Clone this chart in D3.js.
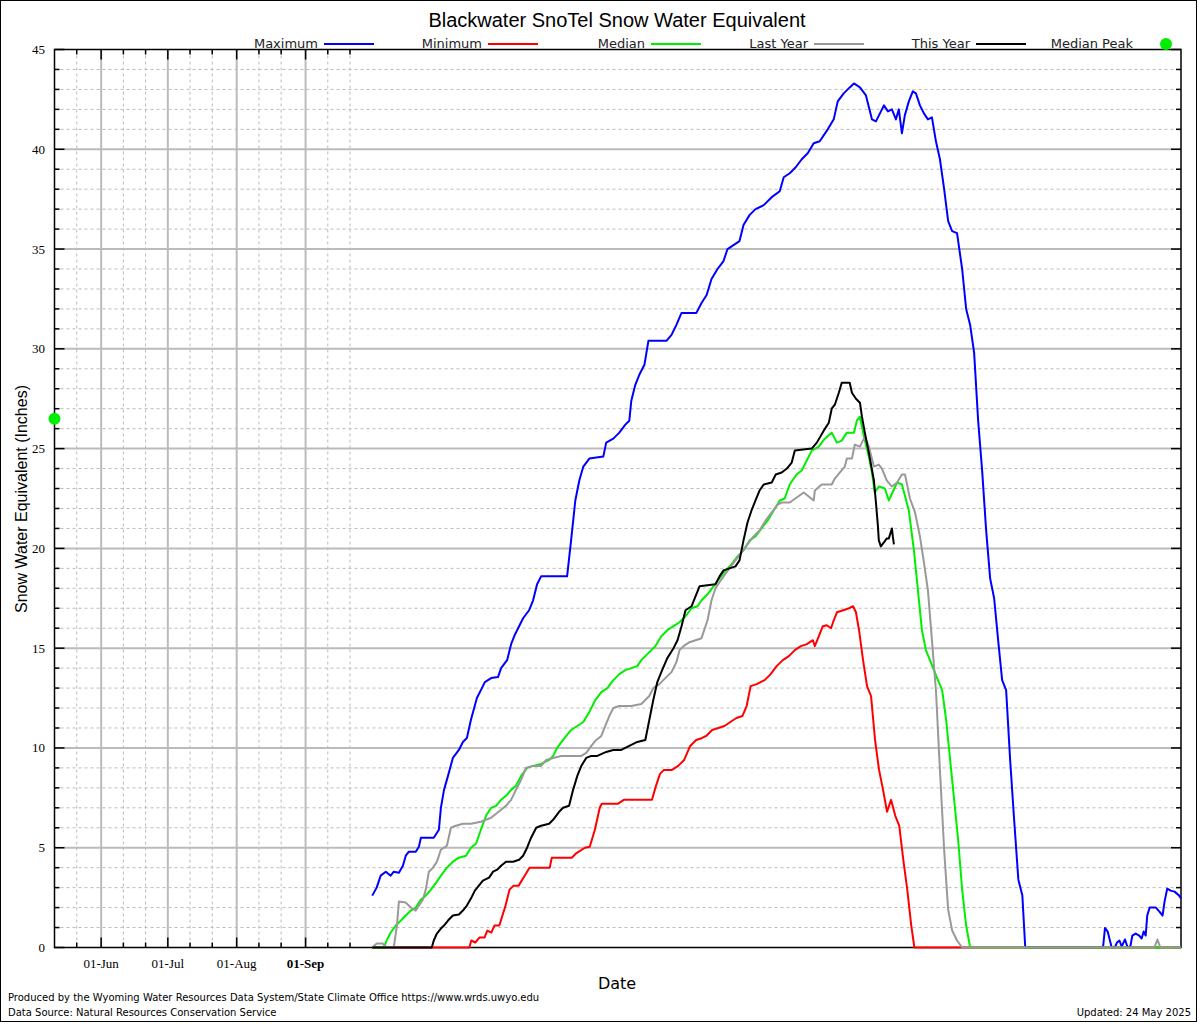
<!DOCTYPE html>
<html><head><meta charset="utf-8">
<script src="https://cdn.jsdelivr.net/npm/d3@7"></script>
<style>body{margin:0;background:#fff}svg{display:block}</style>
</head><body>
<svg id="c" width="1200" height="1024"></svg>
<script>
// ---------------- DATA ----------------
// [day of water year (0 = 01-Oct-2024), SWE inches]
const maximumSeries = [[0,2.6],[2,3.0],[3.8,3.6],[6.1,3.8],[8.3,3.6],[9.7,3.8],[12,3.75],[13.8,4.1],[15.1,4.6],[16.5,4.8],[19.6,4.8],[21,5.05],[21.9,5.5],[27.7,5.5],[30,5.9],[30.9,7.0],[32.3,7.9],[34.1,8.6],[36.3,9.5],[39,9.9],[40.8,10.3],[42.6,10.5],[44.4,11.4],[47.1,12.5],[48.9,12.9],[50.7,13.3],[53.5,13.5],[56.6,13.55],[58,14.0],[60.7,14.4],[62.5,15.2],[64.3,15.7],[66.1,16.1],[67.9,16.5],[70.6,16.9],[72.4,17.4],[74.2,18.2],[76,18.6],[87.7,18.6],[89.5,20.4],[91.4,22.4],[93.2,23.4],[95,24.1],[97.7,24.5],[104,24.6],[105.3,25.3],[108.5,25.5],[111.2,25.8],[113.9,26.2],[115.7,26.4],[116.6,27.4],[118.4,28.2],[120.2,28.7],[122.5,29.2],[124.3,30.4],[132.4,30.4],[134.7,30.7],[136.9,31.2],[139.2,31.8],[145.9,31.8],[148.2,32.3],[150.5,32.7],[152.7,33.5],[155.4,34.0],[158.1,34.4],[159.9,35.0],[162.6,35.2],[165.3,35.4],[167.1,36.2],[169.8,36.7],[172.5,37.0],[176.2,37.2],[179.8,37.6],[183.4,37.9],[185.2,38.6],[187.9,38.8],[190.6,39.1],[193.3,39.5],[196,39.8],[198.7,40.3],[201.4,40.4],[205,41.0],[207.7,41.5],[209.5,42.4],[212.2,42.8],[214.9,43.1],[216.8,43.3],[219.5,43.1],[222.2,42.7],[224.9,41.5],[226.7,41.4],[228.5,41.8],[230.3,42.2],[232.1,41.9],[233.9,42.0],[235.7,41.5],[237,42.0],[238.4,40.8],[239.7,41.7],[241.5,42.4],[243.3,42.9],[244.7,42.8],[246.5,42.2],[248.3,41.8],[250.1,41.5],[251.9,41.6],[253.7,40.4],[255.5,39.5],[257.4,38.0],[259.2,36.4],[261,35.9],[263.2,35.8],[265.5,34.0],[267.3,32.0],[269.1,31.2],[270.9,29.8],[272.7,26.4],[274.5,23.9],[276.3,20.9],[278.1,18.5],[279.9,17.5],[281.7,15.4],[283.5,13.4],[285.3,12.9],[287.1,9.4],[288.9,6.4],[290.8,3.4],[292.6,2.6],[293.9,0],[328.9,0],[329.8,0.98],[331,0.8],[332.8,0],[334.2,0],[335.2,0.25],[336.3,0.35],[337.3,0.05],[338.8,0.4],[340,0],[341.2,0.05],[342.1,0.6],[343.6,0.7],[345.2,0.6],[346.3,0.45],[347.2,0.8],[348.1,0.6],[348.8,1.6],[349.9,2.0],[352.7,2.0],[354.3,1.8],[355.7,1.6],[356.6,2.3],[357.8,2.95],[359.3,2.85],[361.1,2.8],[363.2,2.6],[364,2.45]];

const minimumSeries = [[0,0],[27.3,0],[43.7,0],[44.6,0.35],[46.4,0.25],[48.2,0.5],[50.5,0.5],[51.8,0.85],[53.6,0.75],[55,1.1],[57.2,1.1],[58.6,1.6],[60,2.1],[61.8,2.9],[63.6,3.1],[65.9,3.1],[68.6,3.6],[70.8,4.0],[79.9,4.0],[80.8,4.5],[89.8,4.5],[91.6,4.7],[95.7,5.0],[97.9,5.05],[100.2,5.9],[102.4,7.0],[103.3,7.2],[110.5,7.2],[113.2,7.4],[125.9,7.4],[127.7,8.1],[129.5,8.7],[131.3,8.9],[134.9,8.9],[137.7,9.1],[140.4,9.4],[143.1,10.1],[145.8,10.4],[148.5,10.5],[150.3,10.6],[153,10.9],[155.8,11.0],[158.5,11.1],[161.2,11.3],[163.9,11.5],[166.6,11.6],[168.5,12.1],[170.3,13.1],[173,13.2],[176.6,13.4],[179.3,13.7],[182,14.1],[184.8,14.4],[187.5,14.6],[190.2,14.9],[192.9,15.1],[195.6,15.2],[198.3,15.4],[199.2,15.1],[201,15.6],[202.8,16.1],[204.6,16.15],[206.5,16.0],[207.4,16.3],[209.2,16.8],[211.9,16.9],[214.6,17.0],[216.4,17.1],[217.7,16.8],[219.1,15.9],[220.9,14.4],[222.7,13.1],[224.5,12.6],[226.3,10.4],[228.1,8.9],[229.9,7.9],[231.7,6.8],[233.5,7.4],[235.4,6.6],[237.2,6.1],[239,4.4],[240.8,2.9],[242.6,1.1],[244,0],[364,0]];

const medianSeries = [[0,0],[5.2,0],[6.5,0.35],[8.3,0.75],[10.6,1.1],[12.9,1.35],[15.1,1.6],[17.4,1.85],[19.6,2.0],[21.9,2.4],[24.1,2.6],[26.4,2.9],[29.1,3.3],[30.9,3.6],[33.6,4.0],[36.3,4.3],[39,4.5],[42.2,4.6],[44.4,5.0],[46.7,5.2],[48.9,5.9],[51.2,6.6],[53.5,7.0],[55.7,7.1],[58,7.4],[60.2,7.6],[62.5,7.9],[64.7,8.1],[67,8.6],[69.7,9.0],[72.4,9.1],[76,9.2],[79.6,9.4],[81.4,9.6],[83.2,10.0],[85.9,10.4],[89.5,10.9],[92.3,11.1],[95,11.3],[97.7,11.8],[100.4,12.4],[103.1,12.8],[105.8,13.0],[108.5,13.4],[111.2,13.7],[113.9,13.9],[116.6,14.0],[119.3,14.1],[121.1,14.4],[124.7,14.8],[127.4,15.1],[130.1,15.6],[132.8,15.9],[135.6,16.1],[138.3,16.3],[141,16.6],[143.7,17.0],[146.4,17.1],[148.2,17.4],[150.9,17.7],[153.6,18.1],[156.3,18.5],[159,18.9],[161.7,19.2],[164.4,19.6],[167.1,19.9],[169.8,20.4],[172.5,20.6],[175.2,21.0],[178,21.4],[180.7,21.9],[183.4,22.4],[185.6,22.5],[187.9,23.2],[191,23.7],[193.3,23.9],[197.8,24.9],[201,25.1],[203.7,25.5],[206.8,25.8],[209.1,25.3],[211.3,25.4],[213.6,25.8],[216.8,25.8],[218.1,26.4],[219.5,26.6],[221.3,25.6],[223.5,24.6],[224.9,23.8],[226.2,22.8],[228,23.1],[230.7,23.0],[232.5,22.4],[236.2,23.3],[238.4,23.2],[241.5,21.9],[243.8,19.9],[245.6,17.9],[247.4,15.9],[249.2,14.9],[251,14.4],[252.8,13.9],[254.6,13.4],[256.5,12.9],[258.3,11.4],[260.1,9.4],[261.9,7.4],[263.7,5.4],[265.5,2.9],[267.3,1.1],[269.1,0],[364,0]];

const lastYearSeries = [[0,0],[2,0.2],[4.7,0.2],[6.5,0],[9.7,0],[11.1,1.1],[12,2.3],[15.1,2.25],[17.4,2.0],[19.6,1.85],[21,2.1],[22.8,2.4],[24.1,2.9],[25.5,3.8],[27.3,4.0],[29.1,4.3],[30.9,4.9],[33.6,5.1],[35.4,6.0],[37.7,6.1],[40.8,6.2],[44.4,6.2],[48.9,6.3],[53.5,6.5],[58,6.9],[60.2,7.1],[62.5,7.4],[64.7,7.9],[67,8.4],[69.2,9.0],[72.4,9.1],[76,9.1],[78.3,9.4],[81.4,9.5],[85,9.6],[94.1,9.6],[96.3,9.75],[98.6,10.1],[100.8,10.4],[103.1,10.6],[104.9,11.1],[106.7,11.6],[108.5,12.0],[111.2,12.1],[116.6,12.1],[121.1,12.2],[122.9,12.4],[124.7,12.6],[126.5,13.0],[129.2,13.2],[131.9,13.5],[134.7,13.8],[136.9,14.3],[138.3,14.9],[140.1,15.1],[142.8,15.3],[145.5,15.4],[148.2,15.5],[150.9,16.4],[152.7,17.4],[154.5,18.0],[156.3,18.3],[158.1,18.6],[160.8,19.0],[163.5,19.4],[166.2,19.8],[168.9,20.2],[171.6,20.6],[174.3,20.9],[177.1,21.4],[179.8,21.8],[182.5,22.2],[184.3,22.3],[187.9,22.3],[194.2,22.8],[198.7,22.4],[199.2,22.9],[202.3,23.2],[206.8,23.2],[208.2,23.5],[210.4,23.8],[212.7,24.1],[213.6,24.5],[215.9,24.5],[217.2,25.2],[219.5,25.1],[221.7,25.6],[223.5,25.1],[225.8,24.1],[228,24.2],[229.4,24.0],[231.6,23.4],[233.9,23.1],[236.2,23.3],[238.4,23.7],[239.8,23.7],[242,22.5],[244.3,21.8],[246.5,20.6],[248.3,19.3],[250.1,17.9],[251.9,15.4],[253.7,12.9],[255.5,8.9],[257.4,4.9],[259.2,1.9],[261,0.85],[263.2,0.35],[265.5,0],[352,0],[353.4,0.4],[354.7,0],[364,0]];

const thisYearSeries = [[0,0],[26.8,0],[27.7,0.35],[29.1,0.7],[30.9,0.95],[32.3,1.1],[34.1,1.35],[36.3,1.6],[39,1.65],[40.8,1.85],[42.6,2.1],[44.4,2.45],[46.2,2.85],[48,3.1],[49.8,3.35],[52.6,3.5],[54.4,3.8],[56.2,3.9],[58,4.1],[60.2,4.3],[63.4,4.3],[66.1,4.4],[67.9,4.6],[69.7,5.0],[71.5,5.5],[73.8,6.0],[76,6.1],[79.6,6.2],[81.4,6.4],[84.1,6.8],[85.9,7.0],[88.6,7.1],[90.4,7.9],[92.3,8.6],[94.1,9.1],[96.3,9.5],[98.6,9.6],[101.3,9.6],[105.3,9.8],[108.5,9.9],[112.1,9.9],[115.7,10.1],[119.3,10.3],[122.9,10.4],[124.7,11.4],[126.5,12.4],[128.3,13.3],[130.1,13.8],[132.8,14.5],[135.6,15.0],[137.4,15.4],[139.2,16.1],[141,16.9],[143.7,17.1],[145.5,17.6],[147.3,18.1],[154.5,18.2],[156.3,18.6],[158.1,18.9],[160.8,19.0],[163.5,19.1],[165.3,19.4],[167.1,20.4],[168.9,21.3],[170.7,21.9],[172.5,22.4],[174.3,22.9],[176.2,23.2],[179.8,23.3],[181.6,23.7],[184.3,23.8],[186.6,24.0],[188.8,24.3],[190.2,24.9],[197.8,25.0],[200.1,25.3],[203.2,25.9],[205.5,26.3],[206.8,27.0],[208.2,27.2],[210,27.8],[211.3,28.3],[214.9,28.3],[215.9,27.8],[217.7,27.5],[219.5,27.3],[220.4,26.6],[221.7,25.8],[223.5,24.8],[225.8,23.4],[226.7,22.3],[227.6,21.1],[228,20.4],[228.9,20.1],[230.3,20.3],[231.6,20.5],[232.5,20.5],[233.9,21.0],[234.3,20.6],[234.8,20.2]];

const medianPeak = 26.5;

const seriesNames = ["Maximum","Minimum","Median","Last Year","This Year"];
const yTickLabels = ["0","5","10","15","20","25","30","35","40","45"];
const xMonthTicks = ["2024-06-01","2024-07-01","2024-08-01","2024-09-01"];
const xMonthLabels = ["01-Jun","01-Jul","01-Aug","01-Sep"];
const xMinorTicks = ["2024-05-21","2024-06-11","2024-06-21","2024-07-11","2024-07-21","2024-08-11","2024-08-21","2024-09-11","2024-09-21"];
const titleText = "Blackwater SnoTel Snow Water Equivalent";
const footer1 = "Produced by the Wyoming Water Resources Data System/State Climate Office https://www.wrds.uwyo.edu";
const footer2 = "Data Source: Natural Resources Conservation Service";
const updatedText = "Updated: 24 May 2025";

// ---------------- CHART ----------------
const colors = ["#0000ff","#ff0000","#00ee00","#999999","#000000"];
const seriesData = [maximumSeries, minimumSeries, medianSeries, lastYearSeries, thisYearSeries];
const wyStart = Date.UTC(2024, 9, 1);
const toDate = d => new Date(wyStart + d * 864e5);
const parse = s => new Date(s + "T00:00:00Z");

const svg = d3.select("#c");
const L = 54.5, R = 1181, T = 49.5, B = 947.5;
const x = d3.scaleUtc().domain([parse("2024-05-11"), parse("2025-09-30")]).range([L, R]);
const y = d3.scaleLinear().domain([0, 45]).range([B, T]);

svg.append("rect").attr("x",0.5).attr("y",0.5).attr("width",1196).attr("height",1021)
  .attr("fill","#fff").attr("stroke","#000").attr("stroke-width",1);

const grid = svg.append("g");
const yAll = d3.range(0, 46, 1);
const yMajor = yTickLabels.map(Number);
grid.selectAll("line.hmin").data(yAll.filter(v => v % 5 !== 0)).join("line")
  .attr("x1", L).attr("x2", R).attr("y1", d => y(d)).attr("y2", d => y(d))
  .attr("stroke", "#bbb").attr("stroke-width", 1).attr("stroke-dasharray", "3,3");
grid.selectAll("line.hmaj").data(yMajor.filter(v => v > 0 && v < 45)).join("line")
  .attr("x1", L).attr("x2", R).attr("y1", d => y(d)).attr("y2", d => y(d))
  .attr("stroke", "#bbb").attr("stroke-width", 2);
grid.selectAll("line.vmin").data(xMinorTicks.map(parse)).join("line")
  .attr("x1", d => x(d)).attr("x2", d => x(d)).attr("y1", T).attr("y2", B)
  .attr("stroke", "#bbb").attr("stroke-width", 1).attr("stroke-dasharray", "3,3");
grid.selectAll("line.vmaj").data(xMonthTicks.map(parse)).join("line")
  .attr("x1", d => x(d)).attr("x2", d => x(d)).attr("y1", T).attr("y2", B)
  .attr("stroke", "#bbb").attr("stroke-width", 2);

svg.append("rect").attr("x", L).attr("y", T).attr("width", R - L).attr("height", B - T)
  .attr("fill", "none").attr("stroke", "#000").attr("stroke-width", 1.5);

const tk = svg.append("g").attr("stroke", "#000").attr("stroke-width", 1.5);
yAll.forEach(v => {
  const len = v % 5 === 0 ? 10 : 5;
  tk.append("line").attr("x1", L).attr("x2", L + len).attr("y1", y(v)).attr("y2", y(v));
  tk.append("line").attr("x1", R - len).attr("x2", R).attr("y1", y(v)).attr("y2", y(v));
});
xMinorTicks.map(parse).forEach(d => {
  tk.append("line").attr("x1", x(d)).attr("x2", x(d)).attr("y1", T).attr("y2", T + 5);
  tk.append("line").attr("x1", x(d)).attr("x2", x(d)).attr("y1", B - 5).attr("y2", B);
});
xMonthTicks.map(parse).forEach(d => {
  tk.append("line").attr("x1", x(d)).attr("x2", x(d)).attr("y1", T).attr("y2", T + 10);
  tk.append("line").attr("x1", x(d)).attr("x2", x(d)).attr("y1", B - 10).attr("y2", B);
});

const line = d3.line().x(d => x(toDate(d[0]))).y(d => y(d[1]));
seriesData.forEach((s, i) => {
  svg.append("path").datum(s).attr("d", line).attr("fill", "none")
    .attr("stroke", colors[i]).attr("stroke-width", 2).attr("stroke-linejoin", "round");
});

svg.append("circle").attr("cx", L).attr("cy", y(medianPeak)).attr("r", 6).attr("fill", "#00ee00");

svg.selectAll("text.yl").data(yTickLabels).join("text")
  .attr("x", 45).attr("y", d => y(+d)).attr("dy", "0.35em").attr("text-anchor", "end")
  .attr("font-family", "Liberation Serif, Times New Roman, serif").attr("font-size", 13).text(d => d);
svg.selectAll("text.xl").data(xMonthTicks).join("text")
  .attr("x", d => x(parse(d))).attr("y", 968).attr("text-anchor", "middle")
  .attr("font-family", "Liberation Serif, Times New Roman, serif").attr("font-size", 13)
  .attr("font-weight", (d, i) => i === 3 ? "bold" : "normal")
  .text((d, i) => xMonthLabels[i]);

svg.append("text").attr("x", 617).attr("y", 27).attr("text-anchor", "middle")
  .attr("font-family", "Liberation Sans, Arial, sans-serif").attr("font-size", 20).text(titleText);
svg.append("text").attr("transform", "translate(27,499) rotate(-90)").attr("text-anchor", "middle")
  .attr("font-family", "Liberation Sans, Arial, sans-serif").attr("font-size", 16).text("Snow Water Equivalent (Inches)");
svg.append("text").attr("x", 617).attr("y", 989).attr("text-anchor", "middle")
  .attr("font-family", "DejaVu Sans, sans-serif").attr("font-size", 16).text("Date");

const legRight = [318, 482, 645, 808, 970, 1133];
const lg = svg.append("g").attr("font-family", "DejaVu Sans, sans-serif").attr("font-size", 13);
seriesNames.forEach((n, i) => {
  lg.append("text").attr("x", legRight[i]).attr("y", 48).attr("text-anchor", "end").attr("fill", "#222").text(n);
  lg.append("line").attr("x1", legRight[i] + 6).attr("x2", legRight[i] + 56).attr("y1", 44).attr("y2", 44)
    .attr("stroke", colors[i]).attr("stroke-width", 2);
});
lg.append("text").attr("x", legRight[5]).attr("y", 48).attr("text-anchor", "end").attr("fill", "#222").text("Median Peak");
lg.append("circle").attr("cx", 1166).attr("cy", 44).attr("r", 6).attr("fill", "#00ee00");

const ft = svg.append("g").attr("font-family", "DejaVu Sans, sans-serif").attr("font-size", 10).attr("fill", "#000");
ft.append("text").attr("x", 8).attr("y", 1001).text(footer1);
ft.append("text").attr("x", 8).attr("y", 1016).text(footer2);
ft.append("text").attr("x", 1191).attr("y", 1016).attr("text-anchor", "end").text(updatedText);
</script>
</body></html>
